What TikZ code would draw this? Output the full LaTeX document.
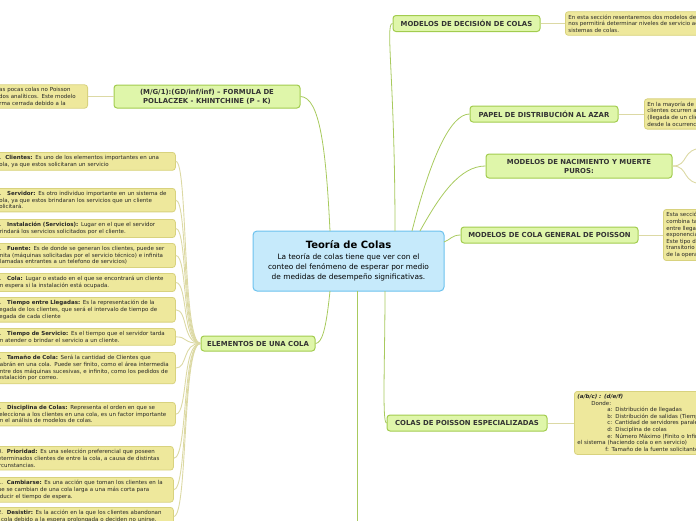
\documentclass[tikz,border=0pt]{standalone}
\usepackage{fontspec}
\setmainfont{DejaVu Sans}
\definecolor{cfill}{HTML}{C6EAFB}
\definecolor{cdraw}{HTML}{6CC2EE}
\definecolor{gfill}{HTML}{DFF6AA}
\definecolor{gdraw}{HTML}{A2CC4E}
\definecolor{yfill}{HTML}{EEE89C}
\definecolor{ydraw}{HTML}{D8D27E}
\definecolor{gline}{HTML}{A8CA5E}
\definecolor{yline}{HTML}{DCD9A4}
\tikzset{
 x=1pt,y=-1pt,
 central/.style={draw=cdraw,fill=cfill,line width=1pt,rounded corners=4pt,align=center,inner sep=2pt,minimum width=191pt,minimum height=60pt,font=\fontsize{7.4}{10.4}\selectfont},
 topic/.style={draw=gdraw,fill=gfill,line width=1pt,rounded corners=3pt,align=center,inner sep=2pt,font=\fontsize{6.9}{9}\selectfont\bfseries,text=black!80},
 det/.style={draw=ydraw,fill=yfill,line width=0.8pt,rounded corners=3pt,align=left,inner sep=3pt,font=\fontsize{5.5}{6.6}\selectfont,text=black!85},
 gl/.style={draw=gline,line width=0.8pt},
 yl/.style={draw=yline,line width=0.9pt},
}
\begin{document}
\begin{tikzpicture}
\useasboundingbox (0,0) rectangle (696,520);
\clip (0,0) rectangle (696,520);
% central
\node[central] (c) at (348.5,261) {{\fontsize{10}{12}\selectfont\bfseries Teoría de Colas}\\La teoría de colas tiene que ver con el\\conteo del fenómeno de esperar por medio\\de medidas de desempeño significativas.};
% topics
\node[topic,minimum width=186pt,minimum height=23pt] (mg1) at (207,96.5) {(M/G/1):(GD/inf/inf) -- FORMULA DE\\POLLACZEK - KHINTCHINE (P - K)};
\node[topic,minimum width=114pt,minimum height=15pt] (el) at (258,343.5) {ELEMENTOS DE UNA COLA};
\node[topic,minimum width=147pt,minimum height=16pt] (dec) at (466.5,23.5) {MODELOS DE DECISIÓN DE COLAS};
\node[topic,minimum width=148pt,minimum height=16pt] (az) at (544,114) {PAPEL DE DISTRIBUCIÓN AL AZAR};
\node[topic,minimum width=186pt,minimum height=24pt] (nac) at (579,166) {MODELOS DE NACIMIENTO Y MUERTE\\PUROS:};
\node[topic,minimum width=177pt,minimum height=16pt] (pg) at (549.5,235) {MODELOS DE COLA GENERAL DE POISSON};
\node[topic,minimum width=160pt,minimum height=16pt] (esp) at (467,423) {COLAS DE POISSON ESPECIALIZADAS};
\coordinate (down) at (357,540);
\coordinate (n1) at (705,148);
\coordinate (n2) at (705,184);
% central connectors
\draw[gl] (330,231) .. controls (326,150) and (320,97) .. (mg1.east);
\draw[gl] (330,291) .. controls (326,330) and (322,343) .. (el.east);
\draw[gl] (395,231) .. controls (395,80) and (385,23) .. (dec.west);
\draw[gl] (412,231) .. controls (430,160) and (450,114) .. (az.west);
\draw[gl] (420,231) .. controls (440,195) and (460,166) .. (nac.west);
\draw[gl] (444,242) .. controls (450,240) and (452,235) .. (pg.west);
\draw[gl] (385,291) .. controls (385,360) and (382,423) .. (esp.west);
\draw[gl] (357,291) -- (down);
\draw[yl] (nac.east) .. controls (690,166) and (680,148) .. (n1);
\draw[yl] (nac.east) .. controls (690,166) and (680,184) .. (n2);
% right details
\node[det,anchor=west] (dd) at (565,23.5) {En esta sección resentaremos dos modelos de decisión que\\nos permitirá determinar niveles de servicio adecuados para\\sistemas de colas.};
\node[det,anchor=west] (azd) at (644,114) {En la mayoría de las situaciones, las llegadas de\\clientes ocurren al azar. Al azar significa que la\\(llegada de un cliente) no depende del tiempo\\desde la ocurrencia del evento anterior.};
\node[det,anchor=west] (pgd) at (663,235) {Esta sección desarrolla un modelo general que\\combina tanto llegadas como salidas, asumiendo\\entre llegadas y tiempos de servicio\\exponenciales.\\Este tipo de modelo se basa en el comportamiento\\transitorio en condiciones de estado estable\\de la operación.};
\node[det,anchor=north west,text width=220pt] (espd) at (574,391) {\textbf{\textit{(a/b/c) : (d/e/f)}}\\
\hspace*{14pt}Donde:\\
\hspace*{30pt}a: Distribución de llegadas\\
\hspace*{30pt}b: Distribución de salidas (Tiempo de servicio)\\
\hspace*{30pt}c: Cantidad de servidores paralelos\\
\hspace*{30pt}d: Disciplina de colas\\
\hspace*{30pt}e: Número Máximo (Finito o Infinito) de clientes en\\
el sistema (haciendo cola o en servicio)\\
\hspace*{28pt}f: Tamaño de la fuente solicitante};
\draw[yl] (dec.east) -- (dd.west);
\draw[yl] (az.east) -- (azd.west);
\draw[yl] (pg.east) -- (pgd.west);
\draw[yl] (esp.east) -- (espd.west |- esp.east);
% mg1 detail
\node[det,anchor=east,text width=116pt] (mgd) at (88,96.5) {Es una de las pocas colas no Poisson\\con resultados analíticos. Este modelo\\se da en forma cerrada debido a la};
\draw[yl] (mgd.east) -- (mg1.west);
% element boxes
\tikzset{el/.style={det,anchor=north west,text width=176pt}}
\node[el] (e1) at (-7,152) {1.\ \ \textbf{Clientes:} Es uno de los elementos importantes en una\\cola, ya que estos solicitaran un servicio};
\node[el] (e2) at (-7,188) {2.\ \ \ \textbf{Servidor:} Es otro individuo importante en un sistema de\\cola, ya que estos brindaran los servicios que un cliente\\solicitará.};
\node[el] (e3) at (-7,219) {3.\ \ \ \textbf{Instalación (Servicios):} Lugar en el que el servidor\\brindará los servicios solicitados por el cliente.};
\node[el] (e4) at (-7,243) {4.\ \ \ \textbf{Fuente:} Es de donde se generan los clientes, puede ser\\finita (máquinas solicitadas por el servicio técnico) e infinita\\(llamadas entrantes a un telefono de servicios)};
\node[el] (e5) at (-7,273) {5.\ \ \ \textbf{Cola:} Lugar o estado en el que se encontrará un cliente\\en espera si la instalación está ocupada.};
\node[el] (e6) at (-7,297) {6.\ \ \ \textbf{Tiempo entre Llegadas:} Es la representación de la\\llegada de los clientes, que será el intervalo de tiempo de\\llegada de cada cliente};
\node[el] (e7) at (-7,328) {7.\ \ \ \textbf{Tiempo de Servicio:} Es el tiempo que el servidor tarda\\en atender o brindar el servicio a un cliente.};
\node[el] (e8) at (-7,352) {8.\ \ \ \textbf{Tamaño de Cola:} Será la cantidad de Clientes que\\habrán en una cola. Puede ser finito, como el área intermedia\\entre dos máquinas sucesivas, e infinito, como los pedidos de\\instalación por correo.};
\node[el] (e9) at (-7,402) {9.\ \ \ \textbf{Disciplina de Colas:} Representa el orden en que se\\selecciona a los clientes en una cola, es un factor importante\\en el análisis de modelos de colas.};
\node[el] (e10) at (-9,446) {10.\ \ \textbf{Prioridad:} Es una selección preferencial que poseen\\determinados clientes de entre la cola, a causa de distintas\\circunstancias.};
\node[el] (e11) at (-9,477) {11.\ \ \textbf{Cambiarse:} Es una acción que toman los clientes en la\\que se cambian de una cola larga a una más corta para\\reducir el tiempo de espera.};
\node[el] (e12) at (-9,507) {12.\ \ \textbf{Desistir:} Es la acción en la que los clientes abandonan\\la cola debido a la espera prolongada o deciden no unirse.\\};
\foreach \e in {e1,e2,e3,e4,e5,e6,e7,e8,e9,e10,e11,e12}{
 \draw[yl] (el.west) .. controls (182,343) and (188,0|-\e.east) .. (\e.east);
}
\end{tikzpicture}
\end{document}
